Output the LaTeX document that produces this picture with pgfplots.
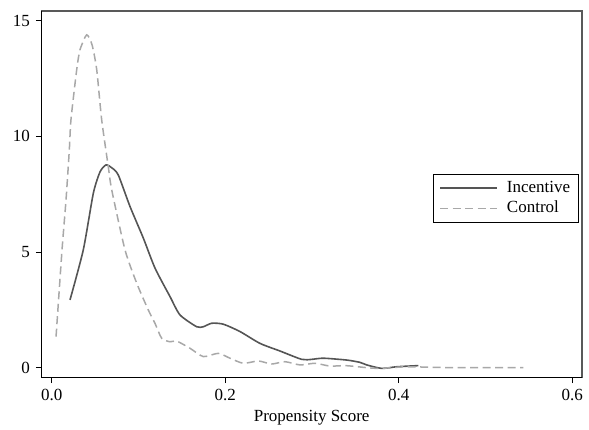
\documentclass[border=0pt]{standalone}
\usepackage{pgfplots}
\pgfplotsset{compat=1.18}
\usepackage{fontspec}
\setmainfont{Liberation Serif}
\definecolor{inccol}{HTML}{555555}
\definecolor{concol}{HTML}{A8A8A8}
\begin{document}
\fontsize{17pt}{20pt}\selectfont
\begin{tikzpicture}
\begin{axis}[
  scale only axis,
  width=540.7pt, height=366.7pt,
  xmin=-0.012, xmax=0.6113,
  ymin=-0.432, ymax=15.41,
  axis line style={draw=none},
  xtick={0,0.2,0.4,0.6},
  xticklabels={0.0,0.2,0.4,0.6},
  ytick={0,5,10,15},
  xtick pos=bottom, ytick pos=left,
  tick align=outside,
  major tick length=5.5pt,
  tick style={black, line width=0.8pt},
  /pgf/number format/assume math mode=true,
  tick label style={font=\fontsize{17pt}{20pt}\selectfont},
  label style={font=\fontsize{17pt}{20pt}\selectfont},
  xlabel={Propensity Score},
  xlabel style={yshift=2pt},
  clip=false,
  legend style={at={(rel axis cs:0.9945,0.5547)}, anchor=north east,
    draw=black, line width=0.6pt, inner xsep=6.5pt, inner ysep=4.5pt,
    row sep=2.3pt,
    /tikz/every odd column/.append style={column sep=7pt},
    font=\fontsize{17pt}{20pt}\selectfont},
  legend cell align=left,
  legend image code/.code={\draw[#1] (0pt,0pt) -- (57pt,0pt);},
]
\draw[black!65, line width=1.2pt] (rel axis cs:0,1) -- (rel axis cs:1,1) -- (rel axis cs:1,0);
\draw[black, line width=1.1pt] (rel axis cs:0,1) -- (rel axis cs:0,0) -- (rel axis cs:1,0);
\addplot[inccol, line width=1.6pt, smooth, tension=0.4] coordinates {
(0.0211,2.93) (0.0364,5.09) (0.048,7.54) (0.0557,8.46) (0.0626,8.76)
(0.0695,8.63) (0.0768,8.32) (0.0903,6.96) (0.1056,5.6) (0.1191,4.30)
(0.1364,3.07) (0.1479,2.28) (0.1671,1.77) (0.1748,1.77) (0.1844,1.92)
(0.1978,1.88) (0.2171,1.56) (0.2401,1.05) (0.2632,0.72) (0.2882,0.36)
(0.2997,0.36) (0.3131,0.41) (0.3401,0.33) (0.3554,0.23) (0.3631,0.12)
(0.3804,-0.03) (0.3977,0.04) (0.4226,0.09)
};
\addlegendentry{Incentive}
\addplot[concol, line width=1.5pt, dash pattern=on 8pt off 4.5pt, smooth, tension=0.4] coordinates {
(0.005,1.34) (0.0119,5.09) (0.0165,7.25) (0.0203,9.41) (0.0222,10.71)
(0.0288,12.87) (0.0326,13.73) (0.0403,14.38) (0.0465,13.95) (0.0519,12.87)
(0.0576,10.71) (0.0652,8.69) (0.0692,7.68) (0.0845,5.09) (0.098,3.65)
(0.1114,2.49) (0.119,1.92) (0.1268,1.27) (0.1364,1.12) (0.1441,1.15)
(0.1594,0.84) (0.1748,0.48) (0.192,0.62) (0.2055,0.41) (0.2209,0.19)
(0.2382,0.29) (0.2536,0.16) (0.2689,0.26) (0.2862,0.12) (0.3035,0.19)
(0.3208,0.07) (0.3381,0.09) (0.3534,0.04) (0.3631,0.0) (0.3784,-0.03)
(0.4092,0.04) (0.4476,0.01) (0.4937,0.0) (0.5436,0.0)
};
\addlegendentry{Control}
\end{axis}
\pgfresetboundingbox
\useasboundingbox (-41.3pt,-52.3pt) rectangle (547.7pt,377.7pt);
\end{tikzpicture}
\end{document}
